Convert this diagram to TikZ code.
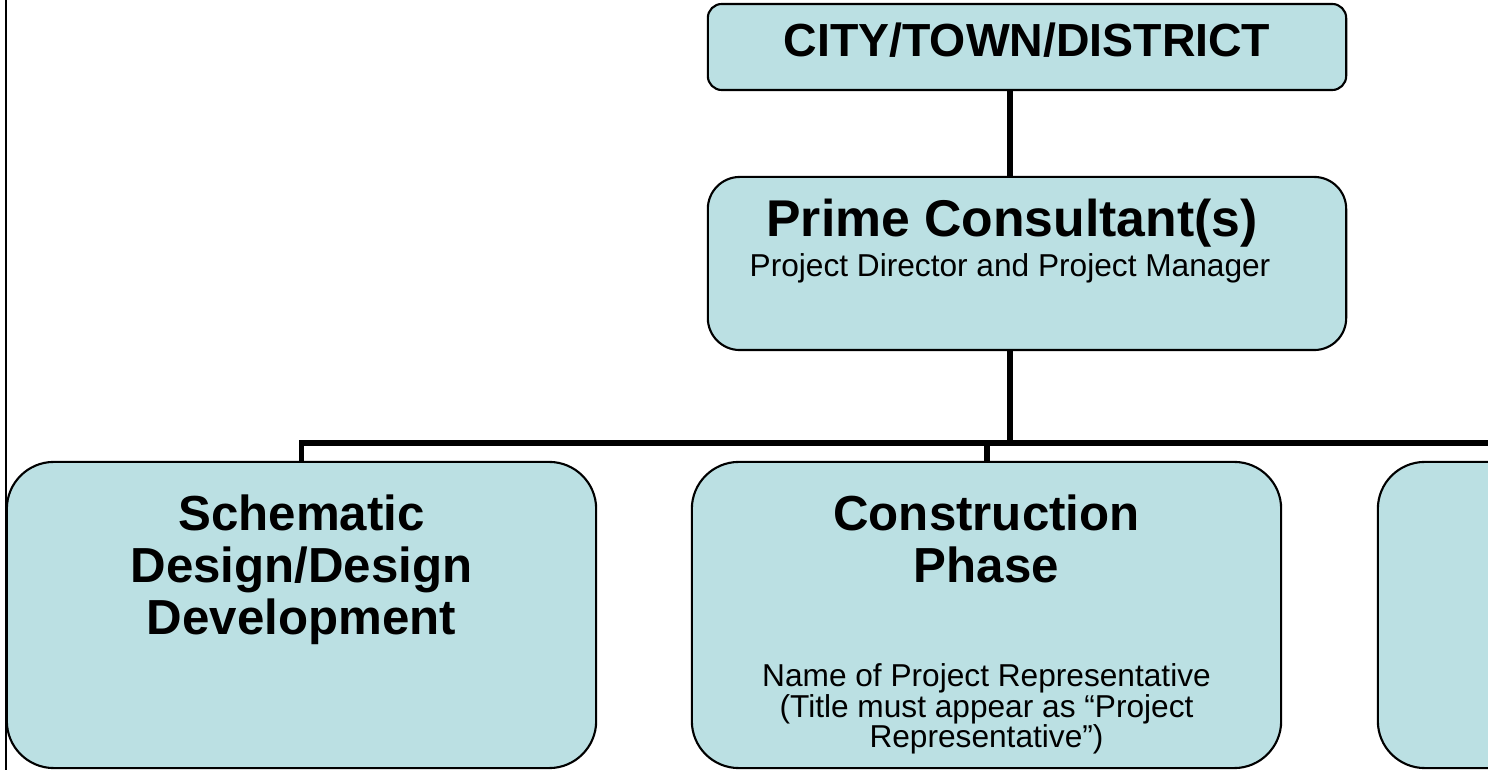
\documentclass[tikz,border=0pt]{standalone}
\usepackage{fontspec}
\setmainfont{Liberation Sans}
\usepackage{tikz}
\usepackage{xcolor}
\usetikzlibrary{calc}
\definecolor{boxblue}{RGB}{187,224,227}
\tikzset{
    orgbox/.style={draw=black, line width=0.6pt, fill=boxblue, inner sep=0pt},
    phasebox/.style={orgbox, minimum width=5.89cm, minimum height=3.06cm, rounded corners=0.47cm},
    link/.style={line width=1.7pt},
    headtext/.style={anchor=north, inner sep=0pt, align=center, font=\bfseries\fontsize{14}{14.8}\selectfont},
    notetext/.style={anchor=north, inner sep=0pt, align=center, font=\fontsize{9}{8.7}\selectfont}
}

\begin{document}
\begin{tikzpicture}[x=0.01cm, y=0.01cm]
    \useasboundingbox (0,0) rectangle (1488,770);
    \clip (0,0) rectangle (1488,770);
    % left rule of the page
    \draw[line width=0.7pt] (6,0) -- (6,770);

    % boxes
    \node[orgbox, minimum width=6.38cm, minimum height=0.86cm, rounded corners=0.14cm] (city) at (1027,723) {};
    \node[orgbox, minimum width=6.38cm, minimum height=1.73cm, rounded corners=0.32cm] (prime) at (1027,506.5) {};
    \node[phasebox] (design) at (301.5,155) {};
    \node[phasebox] (constr) at (986.5,155) {};
    \node[phasebox] (nextphase) at (1672.5,155) {};

    % texts
    \node[headtext, font=\bfseries\fontsize{13.2}{15}\selectfont] (citytext) at ([yshift=-0.19cm]city.north) {CITY/TOWN/DISTRICT};
    \node[headtext, font=\bfseries\fontsize{14.7}{16}\selectfont] (primetext) at ([xshift=-0.15cm, yshift=-0.22cm]prime.north) {Prime Consultant(s)};
    \node[notetext] (primenote) at ([xshift=-0.17cm, yshift=-0.77cm]prime.north) {Project Director and Project Manager};
    \node[headtext] (designtext) at ([yshift=-0.33cm]design.north) {Schematic\\Design/Design\\Development};
    \node[headtext] (constrtext) at ([yshift=-0.33cm]constr.north) {Construction\\Phase};
    \node[notetext] (constrnote) at ([yshift=-2.02cm]constr.north) {Name of Project Representative\\(Title must appear as “Project\\Representative”)};

    % connectors
    \coordinate (trunk) at (1010,327);
    \draw[link] (city.south -| trunk) -- (prime.north -| trunk);
    \draw[link] (prime.south -| trunk) -- (trunk);
    \draw[link] (design.north) |- (trunk) -| (nextphase.north);
    \draw[link] (trunk -| constr.north) -- (constr.north);
\end{tikzpicture}
\end{document}
